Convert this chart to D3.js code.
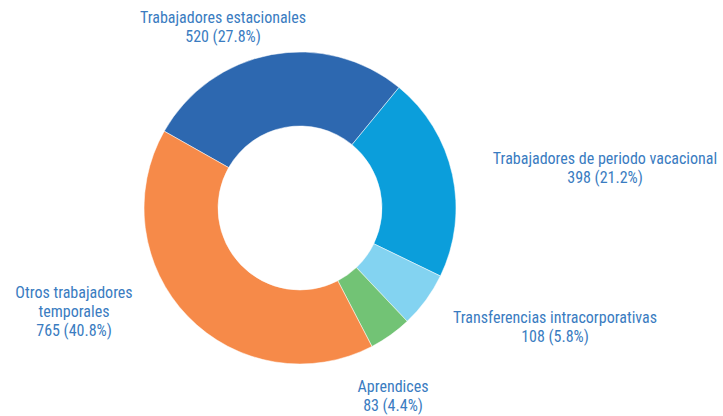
<!DOCTYPE html>
<html>
<head>
<meta charset="utf-8">
<script src="https://cdn.jsdelivr.net/npm/d3@7"></script>
<style>
  body { margin: 0; background: #fff; }
  text { font-family: "Liberation Sans Narrow", "Roboto Condensed", "Liberation Sans", sans-serif; font-size: 16px; fill: #3a7cc1; }
</style>
</head>
<body>
<div id="chart"></div>
<script>
var categories = ["Trabajadores estacionales", "Trabajadores de periodo vacacional", "Transferencias intracorporativas", "Aprendices", "Otros trabajadores temporales"];
var values = [520, 398, 108, 83, 765];
var percents = [27.8, 21.2, 5.8, 4.4, 40.8];
var colors = ["#2d68b0", "#0b9edb", "#83d3f1", "#72c375", "#f68a49"];
// label lines (wrapped as in the original)
var labelLines = [
  ["Trabajadores estacionales"],
  ["Trabajadores de periodo vacacional"],
  ["Transferencias intracorporativas"],
  ["Aprendices"],
  ["Otros trabajadores", "temporales"]
];

var width = 723,
    height = 416,
    cx = 300,
    cy = 208,
    outerR = 156,
    innerR = 82,
    lineH = 19;

// where each label block sits (centre x, first baseline y)
var labelAnchor = [[223, 23], [605, 164], [555, 323], [393, 392], [74, 298]];

var data = categories.map(function(c, i) { return {name: c, value: values[i], pct: percents[i], i: i}; });

var pie = d3.pie()
    .sort(null)
    .value(function(d) { return d.value; })
    .startAngle(-60.5 * Math.PI / 180)
    .endAngle(299.5 * Math.PI / 180);

var arc = d3.arc().innerRadius(innerR).outerRadius(outerR);

var svg = d3.select("#chart").append("svg")
    .attr("width", width)
    .attr("height", height);

svg.append("g")
    .attr("transform", "translate(" + cx + "," + cy + ")")
  .selectAll("path")
    .data(pie(data))
  .enter().append("path")
    .attr("d", arc)
    .attr("fill", function(d) { return colors[d.data.i]; })
    .attr("stroke", "#fff")
    .attr("stroke-width", 0.5);

var fmt = d3.format(".1f");

var label = svg.selectAll(".label")
    .data(data)
  .enter().append("text")
    .attr("class", "label")
    .attr("text-anchor", "middle")
    .attr("x", function(d) { return labelAnchor[d.i][0]; })
    .attr("y", function(d) { return labelAnchor[d.i][1]; });

label.each(function(d) {
  var t = d3.select(this);
  var lines = labelLines[d.i].concat([d.value + " (" + fmt(d.pct) + "%)"]);
  lines.forEach(function(s, k) {
    t.append("tspan")
        .attr("x", labelAnchor[d.i][0])
        .attr("dy", k === 0 ? 0 : lineH)
        .text(s);
  });
});
</script>
</body>
</html>
